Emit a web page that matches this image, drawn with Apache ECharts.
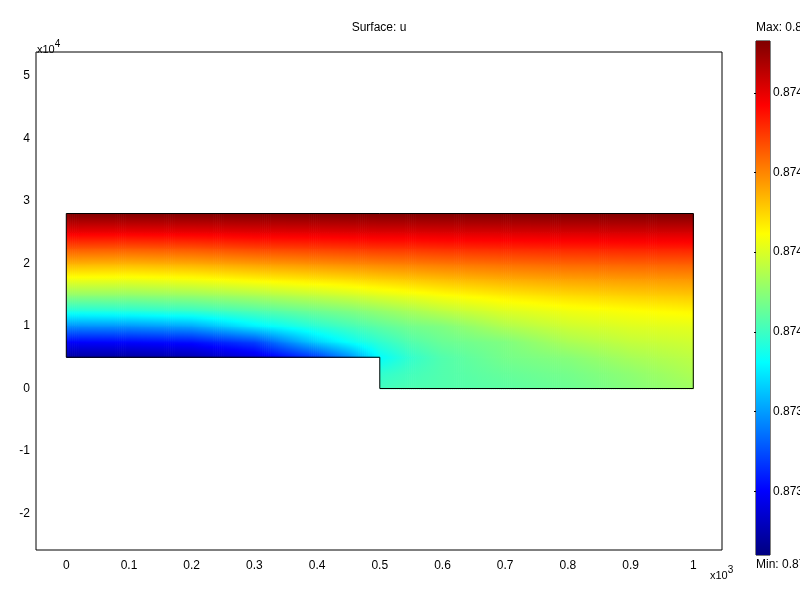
<!DOCTYPE html>
<html><head><meta charset="utf-8">
<script src="https://cdn.jsdelivr.net/npm/echarts@6/dist/echarts.min.js"></script>
<style>html,body{margin:0;padding:0;background:#fff}#c{width:800px;height:600px}</style>
</head><body><div id="c"></div>
<script>
// Mesh nodes (x in model units, y in model units)
const xNodes = [0, 100, 200, 300, 400, 450, 500, 550, 600, 700, 800, 900, 1000];
const yNodes = [0, 2500, 5000, 7500, 10000, 12500, 15000, 17500, 20000, 22500, 25000, 28000];
// u values read per column (bottom -> top), null = outside the domain
const uX0    = [null, null, 0.873479, 0.873601, 0.873782, 0.873965, 0.874108, 0.874227, 0.874343, 0.874463, 0.874588, 0.87473];
const uX100  = [null, null, 0.873479, 0.873608, 0.873788, 0.873975, 0.874108, 0.874224, 0.87434, 0.87446, 0.874587, 0.87473];
const uX200  = [null, null, 0.873498, 0.873621, 0.873813, 0.873993, 0.874119, 0.874236, 0.874352, 0.874468, 0.874591, 0.87473];
const uX300  = [null, null, 0.873556, 0.873685, 0.873904, 0.874026, 0.874142, 0.874259, 0.874371, 0.874486, 0.8746, 0.87473];
const uX400  = [null, null, 0.873672, 0.873866, 0.873978, 0.874067, 0.874173, 0.87428, 0.874387, 0.874495, 0.874602, 0.87473];
const uX450  = [null, null, 0.873775, 0.87393, 0.874009, 0.874085, 0.874188, 0.874291, 0.874395, 0.8745, 0.874606, 0.87473];
const uX500  = [0.874008, 0.873982, 0.873924, 0.873983, 0.874042, 0.874112, 0.874208, 0.874306, 0.874404, 0.874507, 0.874609, 0.87473];
const uX550  = [0.874021, 0.874008, 0.873988, 0.874028, 0.87407, 0.874138, 0.874226, 0.874317, 0.874411, 0.874509, 0.874609, 0.87473];
const uX600  = [0.874027, 0.874027, 0.874027, 0.874057, 0.874085, 0.874164, 0.874244, 0.87433, 0.874419, 0.874515, 0.874613, 0.87473];
const uX700  = [0.87404, 0.874053, 0.874072, 0.874085, 0.874146, 0.874205, 0.874272, 0.874351, 0.874432, 0.874522, 0.874615, 0.87473];
const uX800  = [0.874059, 0.874072, 0.874094, 0.874139, 0.874184, 0.874229, 0.874293, 0.874365, 0.874442, 0.874527, 0.874618, 0.87473];
const uX900  = [0.874091, 0.874104, 0.874135, 0.874171, 0.874205, 0.874244, 0.874307, 0.874373, 0.874447, 0.874531, 0.87462, 0.87473];
const uX1000 = [0.874124, 0.874143, 0.874162, 0.874186, 0.874214, 0.874258, 0.874318, 0.874379, 0.87445, 0.874533, 0.87462, 0.87473];
const U = [uX0, uX100, uX200, uX300, uX400, uX450, uX500, uX550, uX600, uX700, uX800, uX900, uX1000];

const uMin = 0.87344, uMax = 0.87473;
const boundary = [[0, 5000], [0, 28000], [1000, 28000], [1000, 0], [500, 0], [500, 5000], [0, 5000]];
const xTickValues = [0, 100, 200, 300, 400, 500, 600, 700, 800, 900, 1000];
const yTickValues = [-20000, -10000, 0, 10000, 20000, 30000, 40000, 50000];
const cbTickValues = [0.8736, 0.8738, 0.874, 0.8742, 0.8744, 0.8746];

const FONT = '"Liberation Sans", Arial, Helvetica, sans-serif';

function jet(t) {
  t = Math.max(0, Math.min(1, t));
  const f = v => Math.round(255 * Math.max(0, Math.min(1, v)));
  return 'rgb(' + f(1.5 - Math.abs(4 * t - 3)) + ',' + f(1.5 - Math.abs(4 * t - 2)) + ',' + f(1.5 - Math.abs(4 * t - 1)) + ')';
}
function colorOf(u) { return jet((u - uMin) / (uMax - uMin)); }

const cells = [];
for (let i = 0; i < xNodes.length - 1; i++) {
  for (let j = 0; j < yNodes.length - 1; j++) {
    if (U[i][j] != null && U[i + 1][j] != null && U[i][j + 1] != null && U[i + 1][j + 1] != null) cells.push([i, j]);
  }
}

function renderCell(params, api) {
  const i = api.value(0), j = api.value(1);
  const pA = api.coord([xNodes[i], yNodes[j]]);
  const pB = api.coord([xNodes[i + 1], yNodes[j + 1]]);
  const x0 = pA[0], x1 = pB[0], yBot = pA[1], yTop = pB[1];
  const u00 = U[i][j], u10 = U[i + 1][j], u01 = U[i][j + 1], u11 = U[i + 1][j + 1];
  const n = Math.max(1, Math.ceil((x1 - x0) / 2));
  const w = (x1 - x0) / n;
  const children = [];
  for (let k = 0; k < n; k++) {
    const fx = (k + 0.5) / n;
    const uB = u00 + (u10 - u00) * fx, uT = u01 + (u11 - u01) * fx;
    const stops = [];
    for (let s = 0; s <= 6; s++) {
      const f = s / 6;
      stops.push({ offset: f, color: colorOf(uT + (uB - uT) * f) });
    }
    children.push({
      type: 'rect', silent: true,
      shape: { x: x0 + k * w, y: yTop, width: w + 0.7, height: yBot - yTop + 0.7 },
      style: { fill: { type: 'linear', x: 0, y: 0, x2: 0, y2: 1, colorStops: stops } }
    });
  }
  return { type: 'group', children: children };
}

function renderBar(params, api) {
  const pT = api.coord([0, uMax]);
  const pB = api.coord([1, uMin]);
  const stops = [];
  for (let s = 0; s <= 64; s++) stops.push({ offset: s / 64, color: colorOf(uMax - (uMax - uMin) * s / 64) });
  return { type: 'rect', shape: { x: pT[0], y: pT[1], width: pB[0] - pT[0], height: pB[1] - pT[1] },
    style: { fill: { type: 'linear', x: 0, y: 0, x2: 0, y2: 1, colorStops: stops } } };
}

const chart = echarts.init(document.getElementById('c'), null, { renderer: 'canvas' });
chart.setOption({
  animation: false,
  backgroundColor: '#fff',
  textStyle: { fontFamily: FONT },
  grid: [
    { left: 36, top: 52, width: 686, height: 498, show: true, borderColor: '#000', borderWidth: 1, backgroundColor: 'transparent', outerBoundsMode: 'none', containLabel: false },
    { left: 756, top: 41, width: 14, height: 514, show: true, borderColor: '#000', borderWidth: 1, backgroundColor: 'transparent', outerBoundsMode: 'none', containLabel: false }
  ],
  xAxis: [
    { type: 'value', gridIndex: 0, min: -48.3, max: 1045.8,
      axisLine: { show: false }, axisTick: { show: false }, splitLine: { show: false },
      axisLabel: { customValues: xTickValues, formatter: v => String(v / 1000), color: '#000', fontSize: 12, margin: 10, fontFamily: FONT } },
    { type: 'value', gridIndex: 1, min: 0, max: 1, show: false }
  ],
  yAxis: [
    { type: 'value', gridIndex: 0, min: -25840, max: 53840,
      axisLine: { show: false }, axisTick: { show: false }, splitLine: { show: false },
      axisLabel: { customValues: yTickValues, formatter: v => String(v / 10000), color: '#000', fontSize: 12, margin: 6, fontFamily: FONT } },
    { type: 'value', gridIndex: 1, min: uMin, max: uMax, position: 'right',
      axisLine: { show: false }, splitLine: { show: false },
      axisTick: { show: true, inside: true, length: 2, customValues: cbTickValues, lineStyle: { color: '#000' } },
      axisLabel: { customValues: cbTickValues, formatter: v => v.toFixed(4), color: '#000', fontSize: 12, margin: 3, fontFamily: FONT } },
    { type: 'value', gridIndex: 1, min: uMin, max: uMax, position: 'left',
      axisLine: { show: false }, splitLine: { show: false },
      axisTick: { show: true, inside: true, length: 2, customValues: cbTickValues, lineStyle: { color: '#000' } },
      axisLabel: { show: false } }
  ],
  series: [
    { type: 'custom', xAxisIndex: 0, yAxisIndex: 0, data: cells, renderItem: renderCell, clip: true, silent: true, z: 1 },
    { type: 'line', xAxisIndex: 0, yAxisIndex: 0, data: boundary, symbol: 'none', silent: true, z: 3,
      lineStyle: { color: '#000', width: 1 } },
    { type: 'custom', xAxisIndex: 1, yAxisIndex: 1, data: [[0.5, uMin]], renderItem: renderBar, silent: true, z: 1 }
  ],
  graphic: [
    { type: 'text', x: 379, y: 28, style: { text: 'Surface: u', fill: '#000', font: '12px ' + FONT, align: 'center', verticalAlign: 'middle' } },
    { type: 'text', x: 37, y: 39, style: { text: '{a|x10}{s|4}', fill: '#000', font: '11px ' + FONT, verticalAlign: 'top',
      rich: { a: { fontSize: 11, fontFamily: FONT, padding: [5, 0, 0, 0] }, s: { fontSize: 10, fontFamily: FONT, padding: [0, 0, 5, 0] } } } },
    { type: 'text', x: 710, y: 565, style: { text: '{a|x10}{s|3}', fill: '#000', font: '11px ' + FONT, verticalAlign: 'top',
      rich: { a: { fontSize: 11, fontFamily: FONT, padding: [5, 0, 0, 0] }, s: { fontSize: 10, fontFamily: FONT, padding: [0, 0, 5, 0] } } } },
    { type: 'text', x: 756, y: 28, style: { text: 'Max: 0.87473', fill: '#000', font: '12px ' + FONT, align: 'left', verticalAlign: 'middle' } },
    { type: 'text', x: 756, y: 565, style: { text: 'Min: 0.87344', fill: '#000', font: '12px ' + FONT, align: 'left', verticalAlign: 'middle' } }
  ]
});
</script>
</body></html>
